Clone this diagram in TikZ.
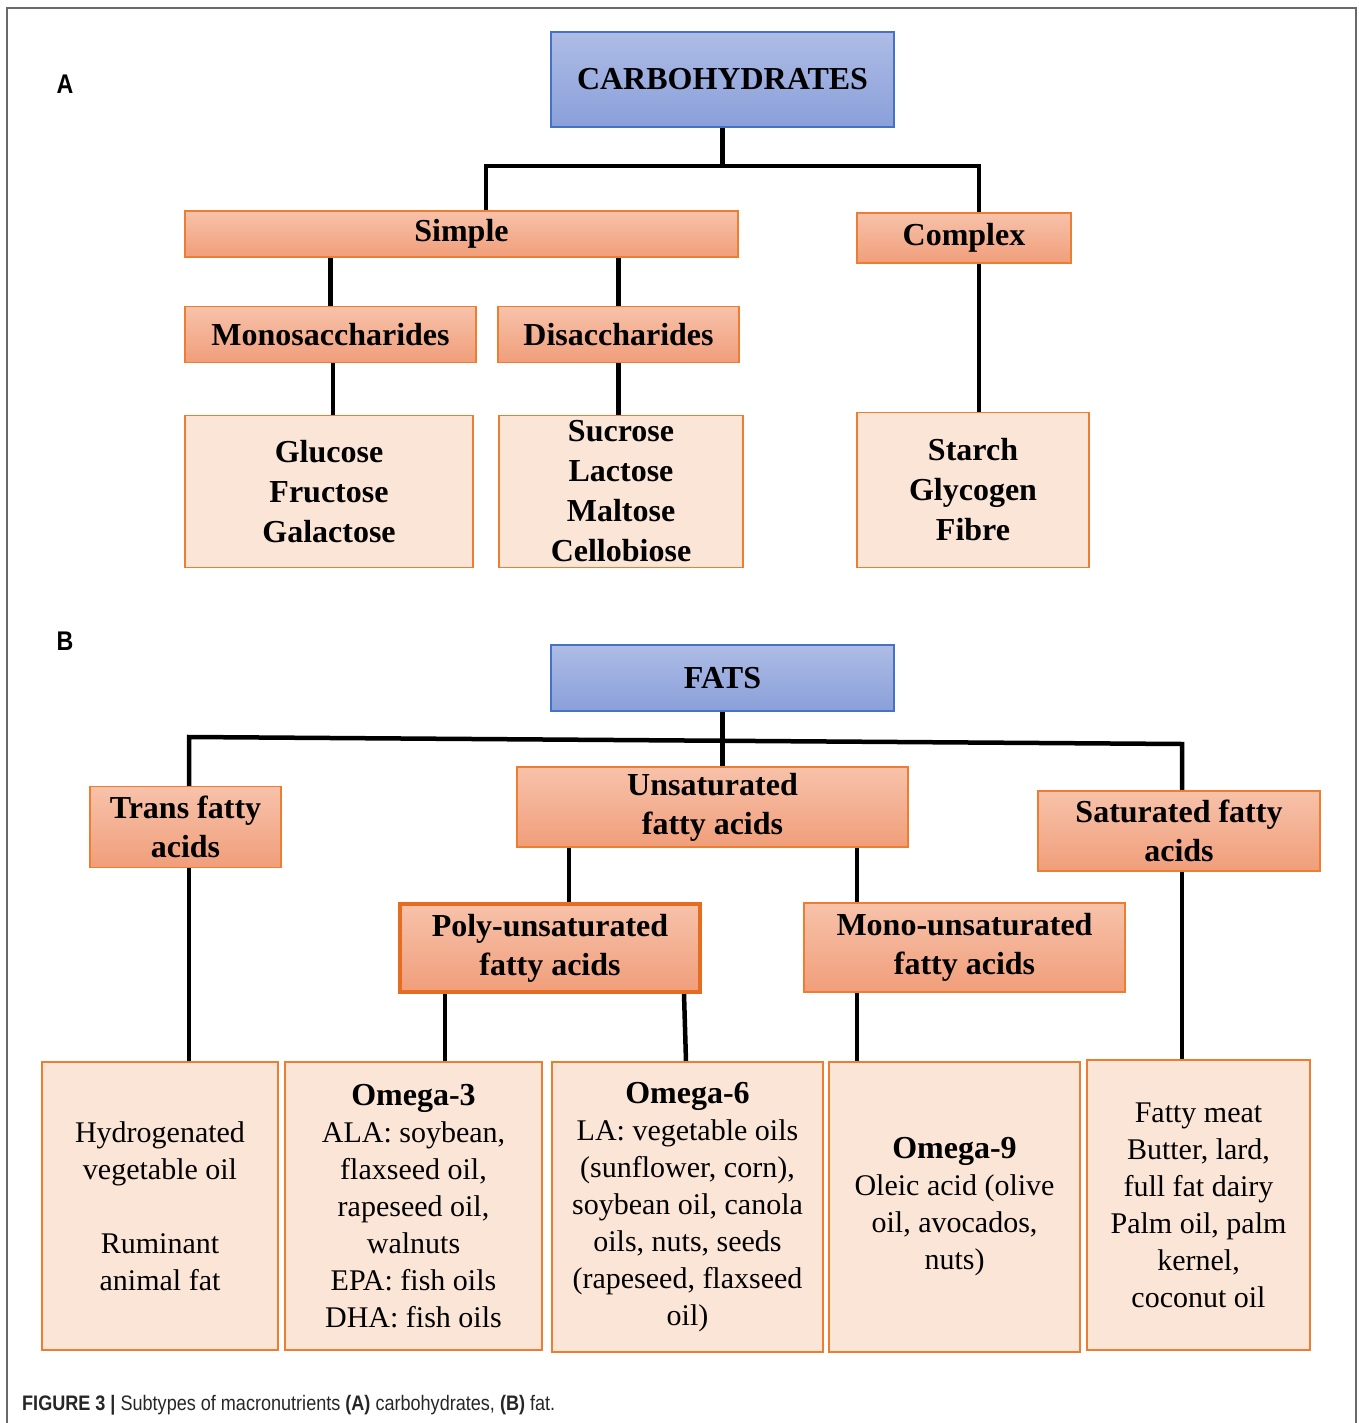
\documentclass[tikz,border=0pt]{standalone}
\usepackage{fontspec}
\setmainfont{Liberation Serif}
\newfontfamily\capfont[FakeStretch=0.86]{Liberation Sans}
\usetikzlibrary{backgrounds}

\definecolor{blueTop}{RGB}{174,188,229}
\definecolor{blueBot}{RGB}{138,160,218}
\definecolor{blueLine}{RGB}{68,114,196}
\definecolor{orTop}{RGB}{247,194,170}
\definecolor{orBot}{RGB}{240,158,122}
\definecolor{orLine}{RGB}{237,125,49}
\definecolor{polyLine}{RGB}{230,108,34}
\definecolor{leafFill}{RGB}{251,229,214}
\definecolor{frameGray}{RGB}{105,105,105}

\begin{document}
\begin{tikzpicture}[x=1pt,y=-1pt,
    topbox/.style={draw=blueLine, line width=1.5pt, top color=blueTop, bottom color=blueBot,
      font=\fontsize{32}{40}\selectfont\bfseries, align=center, inner sep=0pt},
    midbox/.style={draw=orLine, line width=1.3pt, top color=orTop, bottom color=orBot,
      font=\fontsize{32}{39}\selectfont\bfseries, align=center, inner sep=0pt},
    leafbox/.style={draw=orLine, line width=1.3pt, fill=leafFill,
      font=\fontsize{32}{40}\selectfont\bfseries, align=center, inner sep=0pt},
    listbox/.style={draw=orLine, line width=1.3pt, fill=leafFill,
      font=\fontsize{30}{37}\selectfont, align=center, inner sep=0pt},
    link/.style={line width=4.5pt, line join=miter},
    panel/.style={font={\capfont\fontsize{27}{30}\selectfont\bfseries}}]
  \useasboundingbox (0,0) rectangle (1358,1423);
  \draw[frameGray, line width=1.5pt] (7,1423) -- (7,8) -- (1356,8) -- (1356,1423);

  % (A) carbohydrates
  \node[panel] (labA) at (65,84) {A};
  \node[topbox, minimum width=343pt, minimum height=95pt] (carb) at (722.5,79.5) {CARBOHYDRATES};
  \node[midbox, minimum width=553pt, minimum height=46pt] (simple) at (461.5,234) {Simple};
  \node[midbox, minimum width=214pt, minimum height=50pt] (complex) at (964,238) {Complex};
  \node[midbox, minimum width=291pt, minimum height=56pt] (mono) at (330.5,334.5) {Monosaccharides};
  \node[midbox, minimum width=241pt, minimum height=56pt] (di) at (618.5,334.5) {Disaccharides};
  \node[leafbox, minimum width=288pt, minimum height=152pt] (monoList) at (329,491.5)
    {Glucose\\Fructose\\Galactose};
  \node[leafbox, minimum width=244pt, minimum height=152pt] (diList) at (621,491.5)
    {Sucrose\\Lactose\\Maltose\\Cellobiose};
  \node[leafbox, minimum width=232pt, minimum height=155pt] (cxList) at (973,490)
    {Starch\\Glycogen\\Fibre};

  \coordinate (aL) at (486,166);
  \coordinate (aR) at (979,166);

  % (B) fats
  \node[panel] (labB) at (65,641) {B};
  \node[topbox, minimum width=343pt, minimum height=66pt] (fats) at (722.5,678) {FATS};
  \node[midbox, minimum width=191pt, minimum height=81pt] (trans) at (185.5,827) {Trans fatty\\acids};
  \node[midbox, minimum width=391pt, minimum height=80pt] (unsat) at (712.5,807) {Unsaturated\\fatty acids};
  \node[midbox, minimum width=282pt, minimum height=80pt] (sat) at (1179,831) {Saturated fatty\\acids};
  \node[midbox, draw=polyLine, line width=3.5pt, minimum width=300pt, minimum height=88pt] (poly) at (550,948)
    {Poly-unsaturated\\fatty acids};
  \node[midbox, minimum width=321pt, minimum height=89pt] (monoUn) at (964.5,947.5)
    {Mono-unsaturated\\fatty acids};

  \node[listbox, minimum width=236pt, minimum height=288pt] (transList) at (160,1206)
    {Hydrogenated\\vegetable oil\\~\\Ruminant\\animal fat};
  \node[listbox, minimum width=257pt, minimum height=288pt] (omThree) at (413.5,1206)
    {{\fontsize{32}{37}\selectfont\bfseries Omega-3}\\ALA: soybean,\\flaxseed oil,\\rapeseed oil,\\walnuts\\EPA: fish oils\\DHA: fish oils};
  \node[listbox, minimum width=271pt, minimum height=290pt] (omSix) at (687.5,1207)
    {{\fontsize{32}{37}\selectfont\bfseries Omega-6}\\LA: vegetable oils\\(sunflower, corn),\\soybean oil, canola\\oils, nuts, seeds\\(rapeseed, flaxseed\\oil)};
  \node[listbox, minimum width=251pt, minimum height=290pt] (omNine) at (954.5,1207)
    {{\fontsize{32}{37}\selectfont\bfseries Omega-9}\\Oleic acid (olive\\oil, avocados,\\nuts)};
  \node[listbox, minimum width=223pt, minimum height=290pt] (satList) at (1198.5,1205)
    {Fatty meat\\Butter, lard,\\full fat dairy\\Palm oil, palm\\kernel,\\coconut oil};

  \coordinate (bL) at (189,737);
  \coordinate (bR) at (1182,744);

  \begin{scope}[on background layer]
    \draw[link] (carb.south) -- (carb.south |- aL);
    \draw[link] (simple.north -| aL) -- (aL) -- (aR) -- (complex.north -| aR);
    \draw[link] (mono.north) -- (mono.north |- simple.south);
    \draw[link] (di.north) -- (di.north |- simple.south);
    \draw[link] ([xshift=2.5]mono.south) -- ([xshift=2.5]mono.south |- monoList.north);
    \draw[link] (di.south) -- (di.south |- diList.north);
    \draw[link] (complex.south -| aR) -- (cxList.north -| aR);

    \draw[link] (fats.south) -- (fats.south |- unsat.north);
    \draw[link] (trans.north -| bL) -- (bL) -- (bR) -- (sat.north -| bR);
    \draw[link] (trans.south -| bL) -- (transList.north -| bL);
    \draw[link] (sat.south -| bR) -- (satList.north -| bR);
    \draw[link] ([xshift=-143.5]unsat.south) -- ([xshift=-143.5]unsat.south |- poly.north);
    \draw[link] ([xshift=144.5]unsat.south) -- ([xshift=144.5]unsat.south |- monoUn.north);
    \draw[link] ([xshift=-105]poly.south) -- ([xshift=-105]poly.south |- omThree.north);
    \draw[link] ([xshift=134]poly.south) -- ([xshift=-1.5]omSix.north);
    \draw[link] ([xshift=-107.5]monoUn.south) -- ([xshift=-107.5]monoUn.south |- omNine.north);
  \end{scope}

  \node[anchor=west, text=black!85, inner sep=0pt, font={\capfont\fontsize{21}{24}\selectfont}] (caption) at (22,1405)
    {\textbf{FIGURE 3 |} Subtypes of macronutrients \textbf{(A)} carbohydrates, \textbf{(B)} fat.};
\end{tikzpicture}
\end{document}
